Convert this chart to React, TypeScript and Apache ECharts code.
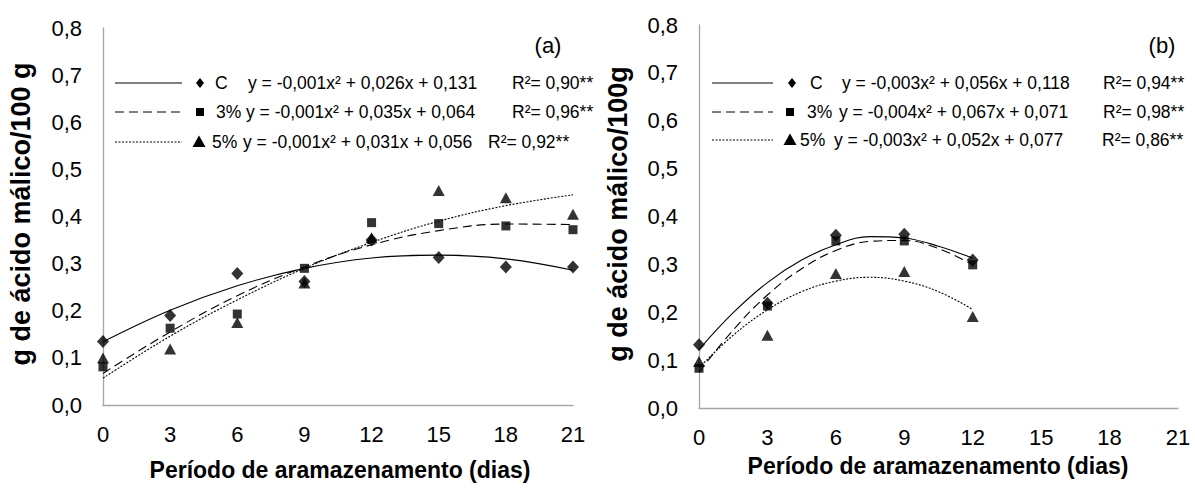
import React, { useEffect, useRef } from "react";
import * as echarts from "echarts";

// ---------- data ----------
const daysA = [0, 3, 6, 9, 12, 15, 18, 21];
const controlA = [0.135, 0.19, 0.279, 0.262, 0.35, 0.313, 0.293, 0.293];
const pct3A = [0.081, 0.163, 0.193, 0.29, 0.387, 0.385, 0.38, 0.372];
const pct5A = [0.1, 0.119, 0.175, 0.259, 0.355, 0.455, 0.44, 0.405];
const fitControlA = [0.134, 0.201, 0.253, 0.29, 0.312, 0.318, 0.31, 0.286];
const fit3A = [0.067, 0.155, 0.232, 0.293, 0.34, 0.37, 0.384, 0.383];
const fit5A = [0.057, 0.146, 0.223, 0.29, 0.345, 0.39, 0.423, 0.446];

const daysB = [0, 3, 6, 9, 12];
const controlB = [0.132, 0.219, 0.361, 0.363, 0.309];
const pct3B = [0.083, 0.213, 0.349, 0.349, 0.299];
const pct5B = [0.097, 0.152, 0.281, 0.285, 0.191];
// trend curves of panel (b), read every 1.5 days
const fitDaysB = [0, 1.5, 3, 4.5, 6, 7.5, 9, 10.5, 12];
const fitControlB = [0.122, 0.199, 0.262, 0.309, 0.341, 0.358, 0.355, 0.338, 0.313];
const fit3B = [0.075, 0.163, 0.236, 0.291, 0.329, 0.348, 0.35, 0.333, 0.299];
const fit5B = [0.084, 0.152, 0.205, 0.243, 0.265, 0.273, 0.265, 0.243, 0.206];

const treatments = ["C", "3%", "5%"];
const equationsA = [
  "y = -0,001x² + 0,026x + 0,131",
  "y = -0,001x² + 0,035x + 0,064",
  "y = -0,001x² + 0,031x + 0,056",
];
const r2A = ["R²= 0,90**", "R²= 0,96**", "R²= 0,92**"];
const equationsB = [
  "y = -0,003x² + 0,056x + 0,118",
  "y = -0,004x² + 0,067x + 0,071",
  "y = -0,003x² + 0,052x + 0,077",
];
const r2B = ["R²= 0,94**", "R²= 0,98**", "R²= 0,86**"];

const xTitle = "Período de aramazenamento (dias)";
const yTitleA = "g de ácido málico/100 g";
const yTitleB = "g de ácido málico/100g";

const FONT = "'Liberation Sans', Arial, sans-serif";
const dashes: (number[] | null)[] = [null, [9, 5], [2, 1.5]];
const symbols = ["diamond", "rect", "triangle"];
const symbolSizes: any[] = [[12, 13], 9, [12, 11]];

function pairs(xs: number[], ys: number[]) {
  return xs.map((x, i) => [x, ys[i]]);
}

function markerShape(kind: number, cx: number, cy: number): any {
  if (kind === 0) {
    const r = 5;
    return { type: "polygon", shape: { points: [[cx, cy - r], [cx + r * 0.8, cy], [cx, cy + r], [cx - r * 0.8, cy]] }, style: { fill: "#000" } };
  }
  if (kind === 1) {
    return { type: "rect", shape: { x: cx - 4, y: cy - 4, width: 8, height: 8 }, style: { fill: "#000" } };
  }
  return { type: "polygon", shape: { points: [[cx, cy - 6.5], [cx + 6.5, cy + 5], [cx - 6.5, cy + 5]] }, style: { fill: "#000" } };
}

function legendBlock(
  rowsY: number[], lineX: [number, number], markerX: number[], labelX: number[],
  eqX: number[], r2X: number[], eqs: string[], r2s: string[]
) {
  const els: any[] = [];
  rowsY.forEach((y, i) => {
    els.push({
      type: "line",
      shape: { x1: lineX[0], y1: y, x2: lineX[1], y2: y },
      style: { stroke: "#000", lineWidth: 1, lineDash: dashes[i] || undefined },
    });
    els.push(markerShape(i, markerX[i], y));
    const ts = { fill: "#000", fontSize: 17.5, fontFamily: FONT, verticalAlign: "middle", align: "left" };
    els.push({ type: "text", x: labelX[i], y, style: { ...ts, text: treatments[i] } });
    els.push({ type: "text", x: eqX[i], y, style: { ...ts, text: eqs[i] } });
    els.push({ type: "text", x: r2X[i], y, style: { ...ts, text: r2s[i] } });
  });
  return els;
}

function makeSeries(gi: number, days: number[], fitDays: number[], obs: number[][], fits: number[][]) {
  const s: any[] = [];
  fits.forEach((f, i) => {
    s.push({
      type: "line",
      xAxisIndex: gi,
      yAxisIndex: gi,
      data: pairs(fitDays, f),
      smooth: 0.4,
      showSymbol: false,
      symbol: "none",
      lineStyle: { color: "#000", width: 1.1, type: dashes[i] || "solid" },
      silent: true,
      z: 2,
    });
  });
  obs.forEach((o, i) => {
    s.push({
      type: "scatter",
      xAxisIndex: gi,
      yAxisIndex: gi,
      data: pairs(days, o),
      symbol: symbols[i],
      symbolSize: symbolSizes[i],
      itemStyle: { color: "#000" },
      z: 3,
    });
  });
  return s;
}

function xAxis(gi: number) {
  return {
    type: "value",
    gridIndex: gi,
    min: 0,
    max: 21,
    interval: 3,
    axisLine: { lineStyle: { color: "#A6A6A6", width: 1.3 } },
    axisTick: { show: false },
    splitLine: { show: false },
    axisLabel: { color: "#000", fontSize: 22, fontFamily: FONT, margin: 18 },
  };
}
function yAxis(gi: number) {
  return {
    type: "value",
    gridIndex: gi,
    min: 0,
    max: 0.8,
    interval: 0.1,
    axisLine: { show: true, lineStyle: { color: "#A6A6A6", width: 1.3 } },
    axisTick: { show: false },
    splitLine: { show: false },
    axisLabel: {
      color: "#000", fontSize: 22, fontFamily: FONT, margin: 21,
      formatter: (v: number) => v.toFixed(1).replace(".", ","),
    },
  };
}

export default function App() {
  const ref = useRef<HTMLDivElement>(null);
  useEffect(() => {
    document.body.style.margin = "0";
    const chart = echarts.init(ref.current!, null, { renderer: "svg" });
    const titleStyle = { fill: "#000", fontSize: 23, fontWeight: "bold", fontFamily: FONT, align: "center", verticalAlign: "middle" };
    const graphic: any[] = [
      ...legendBlock([83, 112, 142], [115, 182], [200, 200, 199], [215, 216, 212], [248, 246, 243], [512, 512, 488], equationsA, r2A),
      ...legendBlock([83, 112, 140], [712, 773], [792, 790, 790], [810, 807, 800], [842, 839, 834], [1103, 1103, 1102], equationsB, r2B),
      { type: "text", x: 548, y: 45, style: { text: "(a)", fill: "#000", fontSize: 22, fontFamily: FONT, align: "center", verticalAlign: "middle" } },
      { type: "text", x: 1162, y: 45, style: { text: "(b)", fill: "#000", fontSize: 22, fontFamily: FONT, align: "center", verticalAlign: "middle" } },
      { type: "text", x: 340, y: 470, style: { ...titleStyle, text: xTitle } },
      { type: "text", x: 938, y: 466, style: { ...titleStyle, text: xTitle } },
      { type: "text", x: 21, y: 214, rotation: Math.PI / 2, style: { ...titleStyle, fontSize: 27, text: yTitleA } },
      { type: "text", x: 618, y: 214, rotation: Math.PI / 2, style: { ...titleStyle, fontSize: 27, text: yTitleB } },
    ];
    chart.setOption({
      animation: false,
      backgroundColor: "#fff",
      grid: [
        { left: 103, top: 28, width: 470, height: 377 },
        { left: 699, top: 25, width: 479, height: 383 },
      ],
      xAxis: [xAxis(0), xAxis(1)],
      yAxis: [yAxis(0), yAxis(1)],
      series: [
        ...makeSeries(0, daysA, daysA, [controlA, pct3A, pct5A], [fitControlA, fit3A, fit5A]),
        ...makeSeries(1, daysB, fitDaysB, [controlB, pct3B, pct5B], [fitControlB, fit3B, fit5B]),
      ],
      graphic,
    });
    return () => chart.dispose();
  }, []);
  return <div ref={ref} style={{ width: 1195, height: 493 }} />;
}
